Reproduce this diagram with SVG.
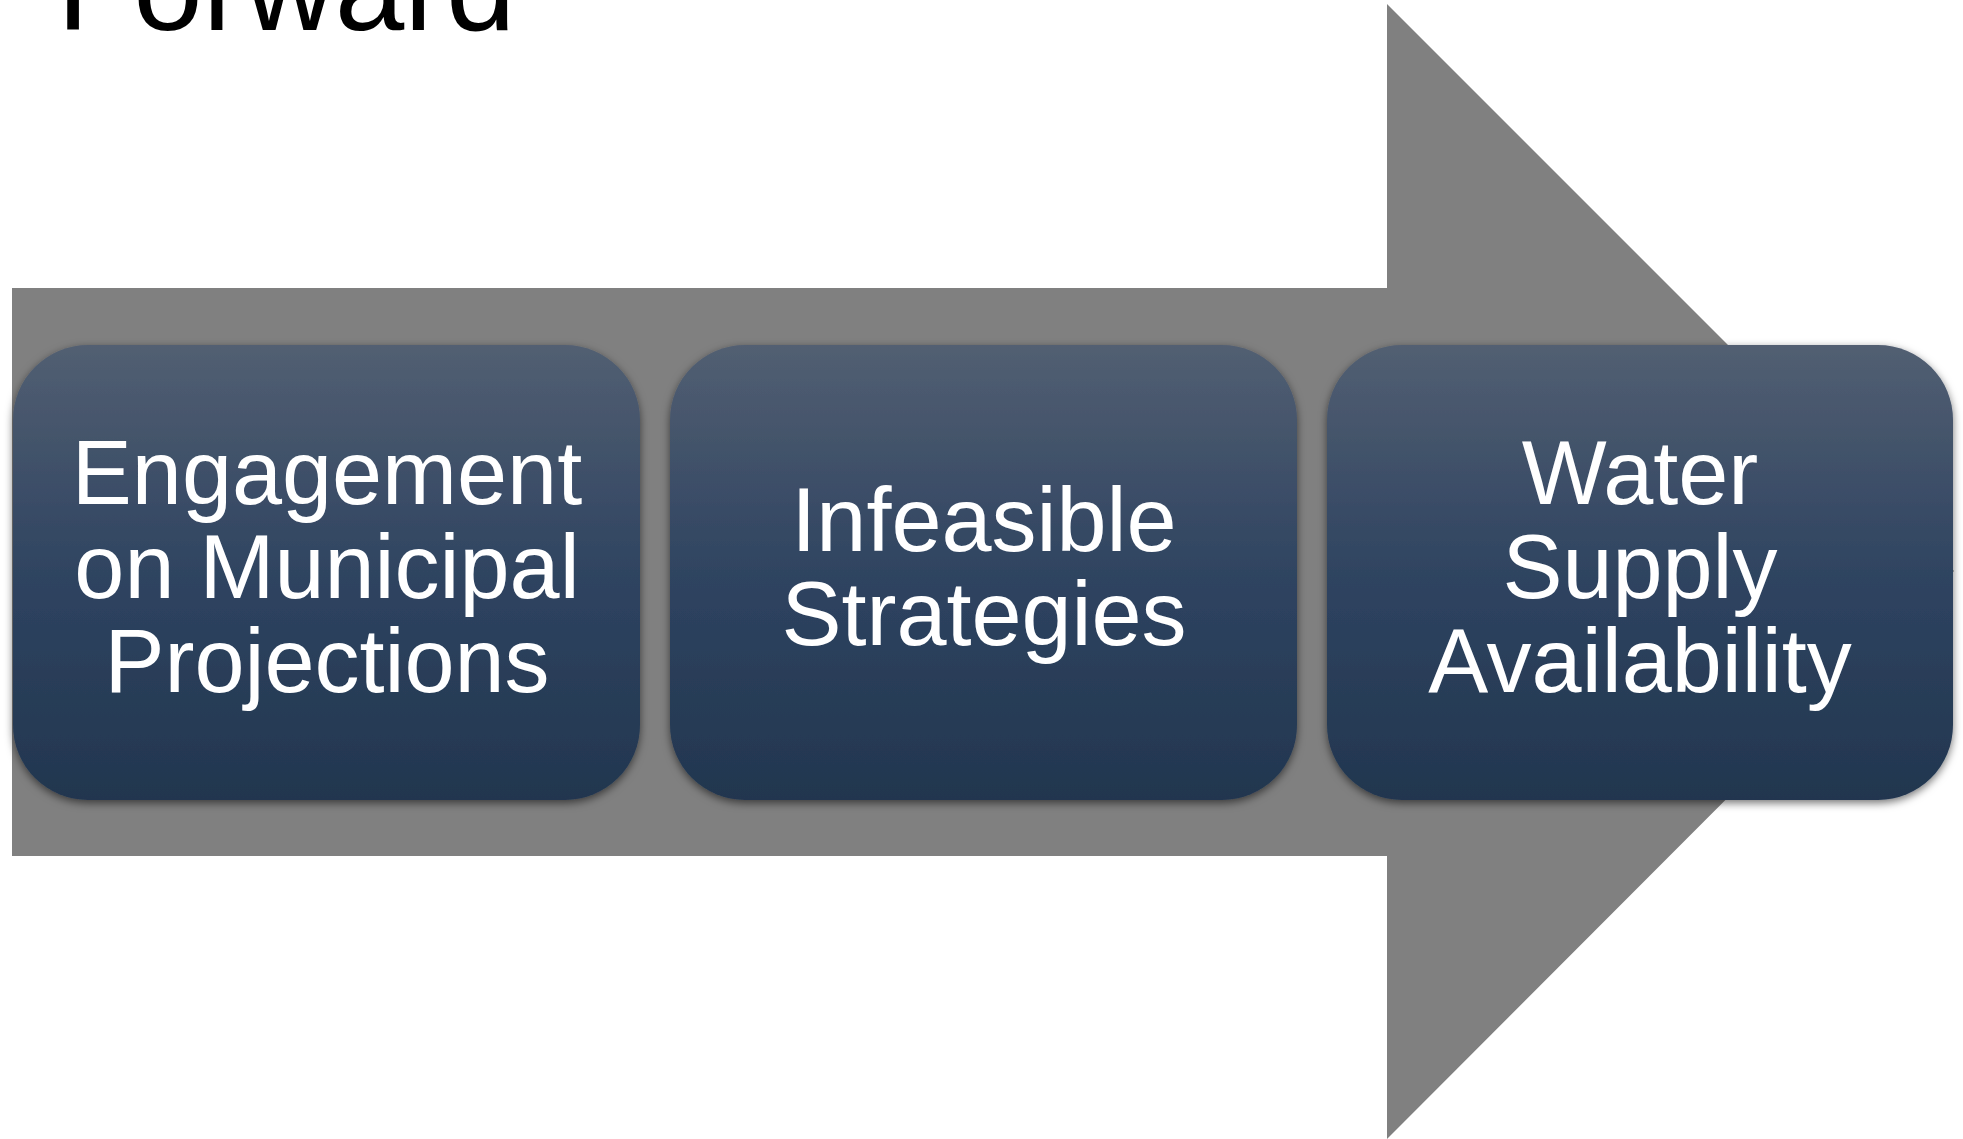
<svg xmlns="http://www.w3.org/2000/svg" width="1963" height="1139" viewBox="0 0 1963 1139">
<style>
.lbl{font-family:"Liberation Sans",Arial,sans-serif;font-size:90px;fill:#ffffff;text-anchor:middle}
.title{font-family:"Liberation Sans",Arial,sans-serif;font-size:125px;fill:#000000}
.box{fill:url(#g)}
</style>
<defs>
<linearGradient id="g" x1="0" y1="0" x2="0" y2="1">
<stop offset="0" stop-color="#525f72"/>
<stop offset="0.5" stop-color="#2f4461"/>
<stop offset="1" stop-color="#22364f"/>
</linearGradient>
<filter id="sh" x="-10%" y="-10%" width="120%" height="130%">
<feDropShadow dx="0" dy="3" stdDeviation="4" flood-color="#000" flood-opacity="0.55"/>
</filter>
</defs>
<rect width="1963" height="1139" fill="#ffffff"/>
<text class="title" x="57" y="30">Forward</text>
<g id="arrow">
<polygon points="12,288 1387,288 1387,4 1954,571 1387,1139 1387,856 12,856" fill="#808080"/>
</g>
<g id="connectors"></g>
<g id="node1">
<rect class="box" x="13" y="345" width="627" height="455" rx="75" ry="75" filter="url(#sh)"/>
<text class="lbl" x="327" y="504">Engagement</text>
<text class="lbl" x="327" y="598">on Municipal</text>
<text class="lbl" x="327" y="692">Projections</text>
</g>
<g id="node2">
<rect class="box" x="670" y="345" width="627" height="455" rx="75" ry="75" filter="url(#sh)"/>
<text class="lbl" x="984" y="551">Infeasible</text>
<text class="lbl" x="984" y="645">Strategies</text>
</g>
<g id="node3">
<rect class="box" x="1327" y="345" width="626" height="455" rx="75" ry="75" filter="url(#sh)"/>
<text class="lbl" x="1640" y="504">Water</text>
<text class="lbl" x="1640" y="598">Supply</text>
<text class="lbl" x="1640" y="692">Availability</text>
</g>
</svg>
